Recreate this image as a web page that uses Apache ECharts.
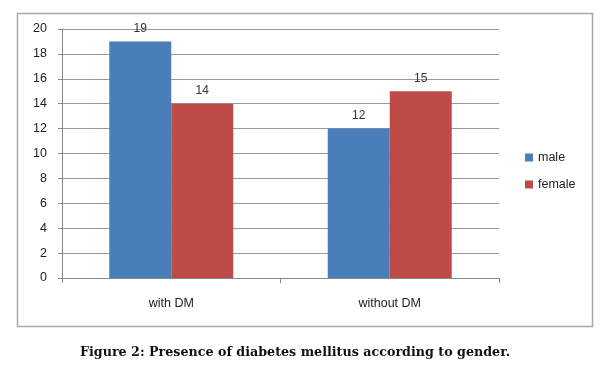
<!DOCTYPE html>
<html><head><meta charset="utf-8">
<script src="https://cdn.jsdelivr.net/npm/echarts@6/dist/echarts.min.js"></script>
<style>html,body{margin:0;padding:0;background:#fff}#c{width:600px;height:371px}</style>
</head><body><div id="c"></div>
<script>
const categories = ['with DM', 'without DM'];
const male = [19, 12];
const female = [14, 15];
const yTicks = [0, 2, 4, 6, 8, 10, 12, 14, 16, 18, 20];
const caption = 'Figure 2: Presence of diabetes mellitus according to gender.';

const chart = echarts.init(document.getElementById('c'), null, {renderer: 'canvas'});
const lbl = {show: true, position: 'top', color: '#333', fontSize: 12, fontFamily: 'Liberation Sans, Arial, sans-serif', distance: 7};
chart.setOption({
  animation: false,
  graphic: [
    {type: 'rect', shape: {x: 17.5, y: 13.5, width: 575, height: 313}, style: {fill: 'none', stroke: '#a8a8a8', lineWidth: 1.5}},
    {type: 'text', left: 80, top: 346, style: {text: caption, font: 'bold 12.7px "DejaVu Serif", "Liberation Serif", serif', fill: '#111'}}
  ],
  grid: {left: 62, right: 101, top: 29, bottom: 93},
  legend: {
    orient: 'vertical', left: 520, top: 146, itemWidth: 8, itemHeight: 8, itemGap: 14,
    icon: 'rect', textStyle: {fontSize: 12.5, color: '#222', fontFamily: 'Liberation Sans, Arial, sans-serif'},
    data: ['male', 'female']
  },
  xAxis: {
    type: 'category', data: categories,
    axisLine: {lineStyle: {color: '#888'}},
    axisTick: {show: true, length: 5, lineStyle: {color: '#888'}},
    axisLabel: {color: '#222', fontSize: 12.5, margin: 19, fontFamily: 'Liberation Sans, Arial, sans-serif'}
  },
  yAxis: {
    type: 'value', min: yTicks[0], max: yTicks[yTicks.length - 1], interval: 2,
    axisLine: {show: true, lineStyle: {color: '#888'}},
    axisTick: {show: true, length: 4, lineStyle: {color: '#888'}},
    axisLabel: {color: '#222', fontSize: 12.5, margin: 15, fontFamily: 'Liberation Sans, Arial, sans-serif'},
    splitLine: {lineStyle: {color: '#999'}}
  },
  series: [
    {name: 'male', type: 'bar', data: male, barWidth: 62, barGap: '0%', itemStyle: {color: '#4a7ebb'}, label: lbl},
    {name: 'female', type: 'bar', data: female, barWidth: 62, itemStyle: {color: '#be4b48'}, label: lbl}
  ]
});
</script></body></html>
